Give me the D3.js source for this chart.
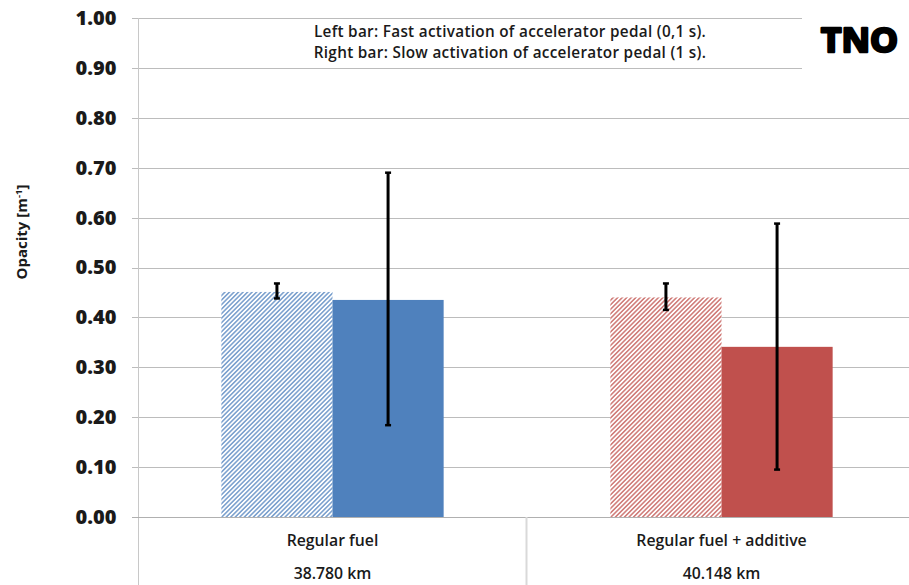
<!DOCTYPE html>
<html>
<head>
<meta charset="utf-8">
<script src="https://cdn.jsdelivr.net/npm/d3@7"></script>
<style>
  html, body { margin: 0; padding: 0; background: #fff; }
  svg { display: block; }
  text { font-family: "Open Sans", "Noto Sans", sans-serif; }
</style>
</head>
<body>
<svg id="chart" width="909" height="585"></svg>
<script>
// ---- data ----
const categories = ["Regular fuel", "Regular fuel + additive"];
const distances = ["38.780 km", "40.148 km"];
const seriesNames = ["Fast (0,1 s)", "Slow (1 s)"];
const fastValues = [0.451, 0.440];
const slowValues = [0.435, 0.341];
const fastErrLow = [0.438, 0.415];
const fastErrHigh = [0.468, 0.468];
const slowErrLow = [0.184, 0.095];
const slowErrHigh = [0.690, 0.588];
const yTicks = [0, 0.1, 0.2, 0.3, 0.4, 0.5, 0.6, 0.7, 0.8, 0.9, 1.0];
const noteLines = ["Left bar: Fast activation of accelerator pedal (0,1 s).",
                   "Right bar: Slow activation of accelerator pedal (1 s)."];
const colors = ["#4F81BD", "#C0504D"];

// ---- layout ----
const svg = d3.select("#chart");
const W = 909, H = 585;
const x0 = 138, x1 = 916;
const yTop = 18, yBot = 517;

const x = d3.scaleBand().domain(categories).range([x0, x1]).paddingInner(0).paddingOuter(0);
const xs = d3.scaleBand().domain(seriesNames).range([0, x.bandwidth()]).paddingInner(0).paddingOuter(0.75);
const y = d3.scaleLinear().domain([0, 1]).range([yBot, yTop]);

// hatch patterns
const defs = svg.append("defs");
colors.forEach((c, i) => {
  const p = defs.append("pattern")
    .attr("id", "hatch" + i)
    .attr("patternUnits", "userSpaceOnUse")
    .attr("width", 3.2).attr("height", 3.2)
    .attr("patternTransform", "rotate(45)");
  p.append("rect").attr("width", 3.2).attr("height", 3.2).attr("fill", "#fff");
  p.append("line").attr("x1", 0.8).attr("y1", 0).attr("x2", 0.8).attr("y2", 3.2)
    .attr("stroke", c).attr("stroke-width", 1.3).attr("stroke-opacity", 0.9);
});

// gridlines
const gridEnd = v => (v >= 0.9 ? 802 : W);
svg.append("g").selectAll("line").data(yTicks.filter(v => v > 0)).join("line")
  .attr("x1", x0 - 6).attr("x2", d => gridEnd(d))
  .attr("y1", d => Math.round(y(d)) + 0.5).attr("y2", d => Math.round(y(d)) + 0.5)
  .attr("stroke", "#bcbcbc").attr("stroke-width", 1);

// y axis
const yAxis = d3.axisLeft(y).tickValues(yTicks).tickFormat(d3.format(".2f")).tickSize(0).tickPadding(22);
const ya = svg.append("g").attr("transform", `translate(${x0 + 0.5},0)`).call(yAxis);
ya.select(".domain").remove();
ya.selectAll("text").attr("font-size", 20).attr("font-weight", 800).attr("fill", "#1a1a1a")
  .attr("font-family", "'Open Sans', sans-serif");

// axis lines
svg.append("line").attr("x1", x0 + 0.5).attr("x2", x0 + 0.5).attr("y1", yTop).attr("y2", H)
  .attr("stroke", "#c8c8c8");
svg.append("line").attr("x1", x0 - 6).attr("x2", W).attr("y1", Math.round(y(0)) + 0.5).attr("y2", Math.round(y(0)) + 0.5)
  .attr("stroke", "#b0b0b0");
// category separator
svg.append("line").attr("x1", x(categories[1]) - 0.5).attr("x2", x(categories[1]) - 0.5)
  .attr("y1", y(0)).attr("y2", H).attr("stroke", "#d9d9d9").attr("stroke-width", 2);

// bars
const barData = [];
categories.forEach((c, i) => {
  barData.push({ cat: c, s: seriesNames[0], v: fastValues[i], lo: fastErrLow[i], hi: fastErrHigh[i], fill: `url(#hatch${i})` });
  barData.push({ cat: c, s: seriesNames[1], v: slowValues[i], lo: slowErrLow[i], hi: slowErrHigh[i], fill: colors[i] });
});
svg.append("g").selectAll("rect").data(barData).join("rect")
  .attr("x", d => x(d.cat) + xs(d.s))
  .attr("width", xs.bandwidth())
  .attr("y", d => y(d.v))
  .attr("height", d => y(0) - y(d.v))
  .attr("fill", d => d.fill);

// error bars
const eb = svg.append("g").selectAll("g").data(barData).join("g")
  .attr("transform", d => `translate(${x(d.cat) + xs(d.s) + xs.bandwidth() / 2},0)`);
eb.append("line").attr("y1", d => y(d.lo)).attr("y2", d => y(d.hi))
  .attr("stroke", "#000").attr("stroke-width", 3);
eb.append("line").attr("x1", -3).attr("x2", 3).attr("y1", d => y(d.hi)).attr("y2", d => y(d.hi))
  .attr("stroke", "#000").attr("stroke-width", 2.5);
eb.append("line").attr("x1", -3).attr("x2", 3).attr("y1", d => y(d.lo)).attr("y2", d => y(d.lo))
  .attr("stroke", "#000").attr("stroke-width", 2.5);

// category labels
const cl = svg.append("g").selectAll("g").data(categories).join("g")
  .attr("transform", d => `translate(${x(d) + x.bandwidth() / 2},0)`);
cl.append("text").attr("y", 546).attr("text-anchor", "middle")
  .attr("font-size", 15.8).attr("font-weight", 600).attr("fill", "#1a1a1a").text(d => d);
cl.append("text").attr("y", 579).attr("text-anchor", "middle")
  .attr("font-size", 15.8).attr("font-weight", 600).attr("fill", "#1a1a1a")
  .text((d, i) => distances[i]);

// y label
const yl = svg.append("text").attr("transform", "translate(27,232) rotate(-90)")
  .attr("text-anchor", "middle").attr("font-size", 15).attr("font-weight", 700).attr("fill", "#1a1a1a");
yl.append("tspan").text("Opacity [m");
yl.append("tspan").attr("font-size", 9.5).attr("dy", -5).text("-1");
yl.append("tspan").attr("dy", 5).text("]");

// note
svg.append("g").selectAll("text").data(noteLines).join("text")
  .attr("x", 510).attr("y", (d, i) => 37 + i * 21)
  .attr("text-anchor", "middle").attr("font-size", 15.3).attr("font-weight", 600)
  .attr("letter-spacing", 0.3).attr("fill", "#1a1a1a")
  .text(d => d);

// logo
svg.append("text").attr("x", 821).attr("y", 52)
  .attr("font-family", "'DejaVu Sans', sans-serif").attr("font-weight", 700).attr("font-size", 34)
  .attr("textLength", 77).attr("lengthAdjust", "spacingAndGlyphs")
  .attr("fill", "#000").attr("stroke", "#000").attr("stroke-width", 2.5).attr("stroke-linejoin", "round")
  .text("TNO");
</script>
</body>
</html>
